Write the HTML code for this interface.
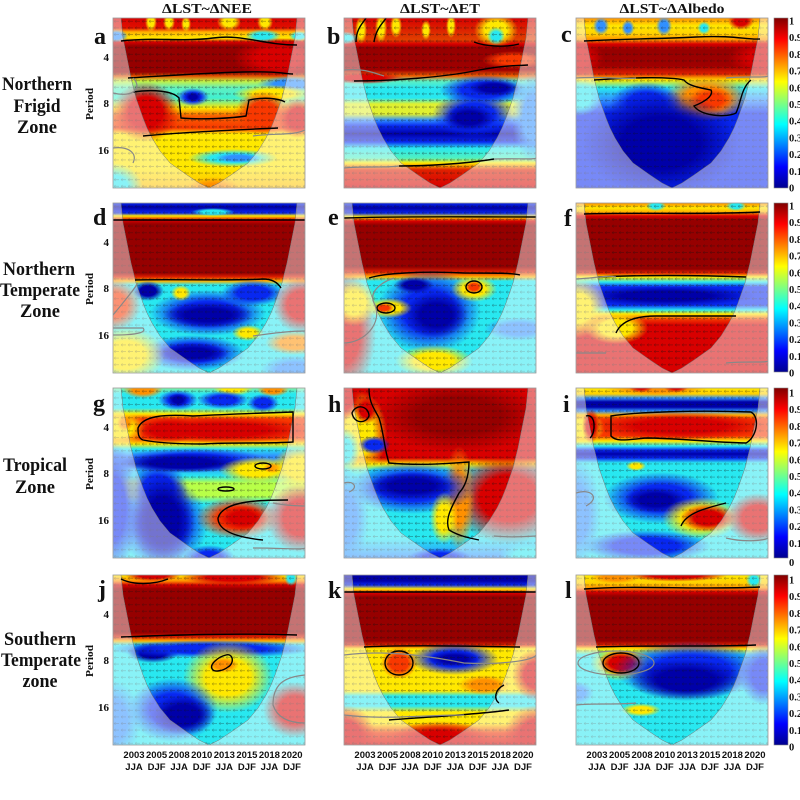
<!DOCTYPE html>
<html><head><meta charset="utf-8"><style>html,body{margin:0;padding:0;background:#fff}svg{display:block}</style></head><body>
<svg width="800" height="800" viewBox="0 0 800 800" xmlns="http://www.w3.org/2000/svg">
<defs>
<clipPath id="pc"><rect x="0" y="0" width="192" height="170"/></clipPath>
<pattern id="ar" patternUnits="userSpaceOnUse" width="7" height="6.6"><path d="M1,3.3h5M1,3.3l1.7,-1.3M1,3.3l1.7,1.3" stroke="#111" stroke-width="0.6" fill="none"/></pattern>
<linearGradient id="jet" x1="0" y1="0" x2="0" y2="1">
<stop offset="0" stop-color="#800000"/><stop offset="0.125" stop-color="#FF0000"/><stop offset="0.375" stop-color="#FFFF00"/><stop offset="0.625" stop-color="#00FFFF"/><stop offset="0.875" stop-color="#0000FF"/><stop offset="1" stop-color="#00008F"/>
</linearGradient>
<radialGradient id="gD"><stop offset="0" stop-color="#960000"/><stop offset="0.5" stop-color="#960000"/><stop offset="1" stop-color="#960000" stop-opacity="0"/></radialGradient>
<radialGradient id="gR"><stop offset="0" stop-color="#D80000"/><stop offset="0.5" stop-color="#D80000"/><stop offset="1" stop-color="#D80000" stop-opacity="0"/></radialGradient>
<radialGradient id="gRO"><stop offset="0" stop-color="#F83800"/><stop offset="0.5" stop-color="#F83800"/><stop offset="1" stop-color="#F83800" stop-opacity="0"/></radialGradient>
<radialGradient id="gO"><stop offset="0" stop-color="#FF9000"/><stop offset="0.5" stop-color="#FF9000"/><stop offset="1" stop-color="#FF9000" stop-opacity="0"/></radialGradient>
<radialGradient id="gY"><stop offset="0" stop-color="#FFE800"/><stop offset="0.5" stop-color="#FFE800"/><stop offset="1" stop-color="#FFE800" stop-opacity="0"/></radialGradient>
<radialGradient id="gC"><stop offset="0" stop-color="#28E8F0"/><stop offset="0.5" stop-color="#28E8F0"/><stop offset="1" stop-color="#28E8F0" stop-opacity="0"/></radialGradient>
<radialGradient id="gL"><stop offset="0" stop-color="#3090FF"/><stop offset="0.5" stop-color="#3090FF"/><stop offset="1" stop-color="#3090FF" stop-opacity="0"/></radialGradient>
<radialGradient id="gB"><stop offset="0" stop-color="#0828F0"/><stop offset="0.5" stop-color="#0828F0"/><stop offset="1" stop-color="#0828F0" stop-opacity="0"/></radialGradient>
<radialGradient id="gK"><stop offset="0" stop-color="#0000A8"/><stop offset="0.5" stop-color="#0000A8"/><stop offset="1" stop-color="#0000A8" stop-opacity="0"/></radialGradient>

<linearGradient id="pa" x1="0" y1="0" x2="0" y2="1">
<stop offset="0" stop-color="#D80000"/><stop offset="0.059" stop-color="#E01000"/><stop offset="0.082" stop-color="#FFB000"/><stop offset="0.118" stop-color="#FFE800"/><stop offset="0.141" stop-color="#D80000"/><stop offset="0.165" stop-color="#960000"/><stop offset="0.318" stop-color="#960000"/><stop offset="0.341" stop-color="#E05000"/><stop offset="0.371" stop-color="#C8F040"/><stop offset="0.412" stop-color="#60F0C0"/><stop offset="0.47" stop-color="#40F0D0"/><stop offset="0.529" stop-color="#FFE800"/><stop offset="0.576" stop-color="#F86000"/><stop offset="0.647" stop-color="#F83800"/><stop offset="0.682" stop-color="#FFE800"/><stop offset="0.882" stop-color="#FFE800"/><stop offset="1" stop-color="#FFC000"/>
</linearGradient>
<linearGradient id="pb" x1="0" y1="0" x2="0" y2="1">
<stop offset="0" stop-color="#D80000"/><stop offset="0.129" stop-color="#E04000"/><stop offset="0.153" stop-color="#D80000"/><stop offset="0.176" stop-color="#960000"/><stop offset="0.306" stop-color="#A00000"/><stop offset="0.341" stop-color="#F06000"/><stop offset="0.371" stop-color="#60F0C0"/><stop offset="0.412" stop-color="#28E8F0"/><stop offset="0.47" stop-color="#28E8F0"/><stop offset="0.506" stop-color="#E0F030"/><stop offset="0.565" stop-color="#E0F030"/><stop offset="0.6" stop-color="#3090FF"/><stop offset="0.635" stop-color="#0828F0"/><stop offset="0.682" stop-color="#0000A8"/><stop offset="0.729" stop-color="#0828F0"/><stop offset="0.765" stop-color="#28E8F0"/><stop offset="0.824" stop-color="#50F0C0"/><stop offset="0.853" stop-color="#FFE800"/><stop offset="0.894" stop-color="#E02000"/><stop offset="1" stop-color="#D80000"/>
</linearGradient>
<linearGradient id="pcg" x1="0" y1="0" x2="0" y2="1">
<stop offset="0" stop-color="#FF9000"/><stop offset="0.047" stop-color="#FFE800"/><stop offset="0.094" stop-color="#FFD000"/><stop offset="0.129" stop-color="#FF9000"/><stop offset="0.153" stop-color="#D80000"/><stop offset="0.188" stop-color="#960000"/><stop offset="0.282" stop-color="#A00000"/><stop offset="0.329" stop-color="#E02000"/><stop offset="0.365" stop-color="#FFE800"/><stop offset="0.412" stop-color="#28E8F0"/><stop offset="0.482" stop-color="#3090FF"/><stop offset="0.559" stop-color="#0828F0"/><stop offset="1" stop-color="#0828F0"/>
</linearGradient>
<linearGradient id="pd" x1="0" y1="0" x2="0" y2="1">
<stop offset="0" stop-color="#0828F0"/><stop offset="0.024" stop-color="#0000A8"/><stop offset="0.059" stop-color="#0828F0"/><stop offset="0.076" stop-color="#FFE800"/><stop offset="0.1" stop-color="#D80000"/><stop offset="0.124" stop-color="#960000"/><stop offset="0.412" stop-color="#960000"/><stop offset="0.435" stop-color="#E02000"/><stop offset="0.459" stop-color="#FFB000"/><stop offset="0.482" stop-color="#28E8F0"/><stop offset="1" stop-color="#28E8F0"/>
</linearGradient>
<linearGradient id="pe" x1="0" y1="0" x2="0" y2="1">
<stop offset="0" stop-color="#0828F0"/><stop offset="0.029" stop-color="#0000A8"/><stop offset="0.059" stop-color="#0828F0"/><stop offset="0.082" stop-color="#FFE800"/><stop offset="0.106" stop-color="#D80000"/><stop offset="0.129" stop-color="#960000"/><stop offset="0.376" stop-color="#960000"/><stop offset="0.406" stop-color="#E02000"/><stop offset="0.435" stop-color="#FFB000"/><stop offset="0.459" stop-color="#28E8F0"/><stop offset="1" stop-color="#28E8F0"/>
</linearGradient>
<linearGradient id="pf" x1="0" y1="0" x2="0" y2="1">
<stop offset="0" stop-color="#FF9000"/><stop offset="0.029" stop-color="#FFE800"/><stop offset="0.053" stop-color="#FFB000"/><stop offset="0.076" stop-color="#D80000"/><stop offset="0.1" stop-color="#960000"/><stop offset="0.388" stop-color="#960000"/><stop offset="0.412" stop-color="#E02000"/><stop offset="0.435" stop-color="#FFE800"/><stop offset="0.465" stop-color="#28E8F0"/><stop offset="0.494" stop-color="#0828F0"/><stop offset="0.6" stop-color="#0828F0"/><stop offset="0.629" stop-color="#28E8F0"/><stop offset="0.653" stop-color="#FFE800"/><stop offset="0.688" stop-color="#F03000"/><stop offset="0.718" stop-color="#D80000"/><stop offset="1" stop-color="#D80000"/>
</linearGradient>
<linearGradient id="pg" x1="0" y1="0" x2="0" y2="1">
<stop offset="0" stop-color="#80F0A0"/><stop offset="0.035" stop-color="#28E8F0"/><stop offset="0.118" stop-color="#28E8F0"/><stop offset="0.153" stop-color="#FFE800"/><stop offset="0.182" stop-color="#F83800"/><stop offset="0.294" stop-color="#F83800"/><stop offset="0.329" stop-color="#FFE800"/><stop offset="0.359" stop-color="#28E8F0"/><stop offset="0.4" stop-color="#3090FF"/><stop offset="0.459" stop-color="#3090FF"/><stop offset="0.518" stop-color="#28E8F0"/><stop offset="0.559" stop-color="#B8FF48"/><stop offset="0.635" stop-color="#B8FF48"/><stop offset="0.682" stop-color="#28E8F0"/><stop offset="1" stop-color="#28E8F0"/>
</linearGradient>
<linearGradient id="ph" x1="0" y1="0" x2="0" y2="1">
<stop offset="0" stop-color="#D80000"/><stop offset="0.412" stop-color="#D80000"/><stop offset="0.447" stop-color="#FFE800"/><stop offset="0.482" stop-color="#28E8F0"/><stop offset="0.882" stop-color="#28E8F0"/><stop offset="1" stop-color="#3090FF"/>
</linearGradient>
<linearGradient id="pi" x1="0" y1="0" x2="0" y2="1">
<stop offset="0" stop-color="#FFE800"/><stop offset="0.035" stop-color="#FFD000"/><stop offset="0.059" stop-color="#3090FF"/><stop offset="0.082" stop-color="#0000A8"/><stop offset="0.112" stop-color="#0000A8"/><stop offset="0.135" stop-color="#3090FF"/><stop offset="0.159" stop-color="#FFB000"/><stop offset="0.182" stop-color="#F83800"/><stop offset="0.282" stop-color="#F83800"/><stop offset="0.312" stop-color="#FFE800"/><stop offset="0.341" stop-color="#28E8F0"/><stop offset="0.365" stop-color="#0828F0"/><stop offset="0.388" stop-color="#0000A8"/><stop offset="0.412" stop-color="#0828F0"/><stop offset="0.441" stop-color="#28E8F0"/><stop offset="1" stop-color="#28E8F0"/>
</linearGradient>
<linearGradient id="pj" x1="0" y1="0" x2="0" y2="1">
<stop offset="0" stop-color="#FFE800"/><stop offset="0.035" stop-color="#FF9000"/><stop offset="0.059" stop-color="#D80000"/><stop offset="0.082" stop-color="#960000"/><stop offset="0.341" stop-color="#960000"/><stop offset="0.365" stop-color="#E02000"/><stop offset="0.388" stop-color="#FFB000"/><stop offset="0.412" stop-color="#28E8F0"/><stop offset="1" stop-color="#28E8F0"/>
</linearGradient>
<linearGradient id="pk" x1="0" y1="0" x2="0" y2="1">
<stop offset="0" stop-color="#0000A8"/><stop offset="0.035" stop-color="#0000A8"/><stop offset="0.059" stop-color="#0828F0"/><stop offset="0.082" stop-color="#FFE800"/><stop offset="0.106" stop-color="#D80000"/><stop offset="0.129" stop-color="#960000"/><stop offset="0.388" stop-color="#960000"/><stop offset="0.412" stop-color="#E02000"/><stop offset="0.435" stop-color="#FFE800"/><stop offset="0.682" stop-color="#FFE800"/><stop offset="0.712" stop-color="#28E8F0"/><stop offset="0.771" stop-color="#28E8F0"/><stop offset="0.806" stop-color="#FFE800"/><stop offset="0.871" stop-color="#FFE800"/><stop offset="0.929" stop-color="#F03000"/><stop offset="1" stop-color="#D80000"/>
</linearGradient>
<linearGradient id="pl" x1="0" y1="0" x2="0" y2="1">
<stop offset="0" stop-color="#FFE800"/><stop offset="0.047" stop-color="#FFD000"/><stop offset="0.076" stop-color="#FF9000"/><stop offset="0.1" stop-color="#D80000"/><stop offset="0.124" stop-color="#960000"/><stop offset="0.388" stop-color="#960000"/><stop offset="0.412" stop-color="#E02000"/><stop offset="0.435" stop-color="#FFE800"/><stop offset="0.47" stop-color="#28E8F0"/><stop offset="1" stop-color="#28E8F0"/>
</linearGradient>

<path id="ov" d="M0,0H192V170H0Z M8,0 L10,20 L14,40 L18,60 L23,80 L30,100 L34,110 L39,120 L47,133 L57,145 L74,157 L86,165 L96,170 L106,165 L118,157 L135,145 L145,133 L153,120 L158,110 L162,100 L169,80 L174,60 L178,40 L182,20 L184,0 Z" fill="#fff" fill-opacity="0.45" fill-rule="evenodd"/>
<path id="ce" d="M8,0 L10,20 L14,40 L18,60 L23,80 L30,100 L34,110 L39,120 L47,133 L57,145 L74,157 L86,165 L96,170 L106,165 L118,157 L135,145 L145,133 L153,120 L158,110 L162,100 L169,80 L174,60 L178,40 L182,20 L184,0" fill="none" stroke="#777" stroke-width="0.5"/>
</defs>

<!-- Panel a -->
<g transform="translate(113,18)"><g clip-path="url(#pc)">
<rect x="-10" y="0" width="212" height="170" fill="url(#pa)"/>
<ellipse cx="38" cy="4" rx="6" ry="10" fill="url(#gY)"/>
<ellipse cx="56" cy="4" rx="6" ry="9" fill="url(#gY)"/>
<ellipse cx="73" cy="6" rx="5" ry="8" fill="url(#gY)"/>
<ellipse cx="116" cy="4" rx="12" ry="9" fill="url(#gY)"/>
<ellipse cx="152" cy="4" rx="8" ry="9" fill="url(#gY)"/>
<ellipse cx="150" cy="18" rx="18" ry="6.5" fill="url(#gC)"/>
<ellipse cx="3" cy="18" rx="12" ry="6.5" fill="url(#gL)"/>
<ellipse cx="186" cy="18" rx="10" ry="5" fill="url(#gC)"/>
<ellipse cx="165" cy="40" rx="45" ry="20" fill="url(#gR)"/>
<ellipse cx="178" cy="66" rx="34" ry="8" fill="url(#gL)"/>
<ellipse cx="160" cy="76" rx="40" ry="9" fill="url(#gY)"/>
<ellipse cx="33" cy="94" rx="34" ry="30" fill="url(#gR)"/>
<ellipse cx="150" cy="95" rx="28" ry="22" fill="url(#gRO)"/>
<ellipse cx="80" cy="79" rx="16" ry="9" fill="url(#gB)"/>
<ellipse cx="80" cy="79" rx="8" ry="5" fill="url(#gK)"/>
<ellipse cx="120" cy="140" rx="45" ry="9" fill="url(#gC)"/>
<ellipse cx="125" cy="140" rx="23" ry="5" fill="url(#gL)"/>
<ellipse cx="100" cy="172" rx="28" ry="13" fill="url(#gO)"/>
<ellipse cx="0" cy="170" rx="30" ry="25" fill="url(#gC)"/>
<ellipse cx="185" cy="100" rx="20" ry="20" fill="url(#gR)"/>
<rect width="192" height="170" fill="url(#ar)" opacity="0.4"/>
<use href="#ov"/><use href="#ce"/>
<g fill="none" stroke="#000" stroke-width="1.4">
<path d="M8,23 C40,19 70,24 100,20 S150,27 184,27"/>
<path d="M15,60 C50,58 90,55 130,54 S170,56 180,56"/>
<path d="M20,74 C40,71 60,73 66,80 L68,100 C90,102 120,100 133,98 L136,82 C150,79 165,80 172,84"/>
<path d="M30,118 C70,114 120,112 165,110"/>
</g>
<g fill="none" stroke="#888" stroke-width="1.2">
<path d="M0,75 C20,80 30,70 20,60"/><path d="M140,118 C160,115 180,118 192,112"/><path d="M0,130 C15,128 25,135 20,145"/>
</g>
</g><rect width="192" height="170" fill="none" stroke="#999" stroke-width="0.8"/></g>

<!-- Panel b -->
<g transform="translate(344,18)"><g clip-path="url(#pc)">
<rect x="-10" y="0" width="212" height="170" fill="url(#pb)"/>
<ellipse cx="17" cy="12" rx="6" ry="14" fill="url(#gY)"/>
<ellipse cx="37" cy="10" rx="6" ry="15" fill="url(#gY)"/>
<ellipse cx="52" cy="8" rx="6" ry="12" fill="url(#gY)"/>
<ellipse cx="82" cy="12" rx="5" ry="10" fill="url(#gY)"/>
<ellipse cx="107" cy="8" rx="5" ry="12" fill="url(#gY)"/>
<ellipse cx="152" cy="12" rx="22" ry="17" fill="url(#gY)"/>
<ellipse cx="152" cy="18" rx="9" ry="9" fill="url(#gC)"/>
<ellipse cx="0" cy="20" rx="15" ry="6.5" fill="url(#gC)"/>
<ellipse cx="170" cy="42" rx="32" ry="9" fill="url(#gRO)"/>
<ellipse cx="20" cy="60" rx="40" ry="6" fill="url(#gR)"/>
<ellipse cx="140" cy="72" rx="45" ry="15" fill="url(#gB)"/>
<ellipse cx="150" cy="70" rx="26" ry="8" fill="url(#gK)"/>
<ellipse cx="130" cy="97" rx="42" ry="23" fill="url(#gB)"/>
<ellipse cx="125" cy="100" rx="26" ry="13" fill="url(#gK)"/>
<ellipse cx="190" cy="100" rx="22" ry="45" fill="url(#gL)"/>
<rect width="192" height="170" fill="url(#ar)" opacity="0.4"/>
<use href="#ov"/><use href="#ce"/>
<g fill="none" stroke="#000" stroke-width="1.4">
<path d="M10,63 C50,63 100,59 130,53 S170,48 184,47"/>
<path d="M55,148 C80,148 120,146 150,141"/>
<path d="M12,24 C12,10 20,4 22,0"/><path d="M30,24 C32,10 40,4 42,0"/><path d="M130,24 C140,28 160,30 175,26"/>
</g>
<g fill="none" stroke="#888" stroke-width="1.2">
<path d="M0,52 C20,50 30,55 40,58"/><path d="M0,150 C20,148 40,150 55,148"/><path d="M150,141 C170,140 190,142 192,140"/>
</g>
</g><rect width="192" height="170" fill="none" stroke="#999" stroke-width="0.8"/></g>

<!-- Panel c -->
<g transform="translate(576,18)"><g clip-path="url(#pc)">
<rect x="-10" y="0" width="212" height="170" fill="url(#pcg)"/>
<ellipse cx="25" cy="8" rx="8" ry="9" fill="url(#gL)"/>
<ellipse cx="52" cy="10" rx="6.5" ry="8" fill="url(#gL)"/>
<ellipse cx="88" cy="8" rx="8" ry="10" fill="url(#gL)"/>
<ellipse cx="128" cy="10" rx="6.5" ry="6.5" fill="url(#gC)"/>
<ellipse cx="165" cy="3" rx="13" ry="9" fill="url(#gR)"/>
<ellipse cx="0" cy="40" rx="28" ry="18" fill="url(#gR)"/>
<ellipse cx="192" cy="40" rx="40" ry="18" fill="url(#gR)"/>
<ellipse cx="130" cy="80" rx="42" ry="23" fill="url(#gO)"/>
<ellipse cx="135" cy="82" rx="23" ry="13" fill="url(#gRO)"/>
<ellipse cx="70" cy="85" rx="36" ry="21" fill="url(#gB)"/>
<ellipse cx="85" cy="125" rx="78" ry="52" fill="url(#gK)"/>
<ellipse cx="3" cy="80" rx="23" ry="18" fill="url(#gC)"/>
<rect width="192" height="170" fill="url(#ar)" opacity="0.35"/>
<use href="#ov"/><use href="#ce"/>
<g fill="none" stroke="#000" stroke-width="1.4">
<path d="M8,23 C40,21 80,21 120,19 S170,22 184,21"/>
<path d="M18,62 C50,60 90,58 108,62 C112,68 125,70 135,72 C138,78 128,84 118,88 C125,98 150,100 160,95 C165,85 165,70 175,62"/>
</g>
<g fill="none" stroke="#888" stroke-width="1.2">
<path d="M0,60 C30,58 50,62 60,60"/><path d="M150,60 C170,58 190,60 192,58"/>
</g>
</g><rect width="192" height="170" fill="none" stroke="#999" stroke-width="0.8"/></g>

<!-- Panel d -->
<g transform="translate(113,203)"><g clip-path="url(#pc)">
<rect x="-10" y="0" width="212" height="170" fill="url(#pd)"/>
<ellipse cx="100" cy="9" rx="22" ry="4" fill="url(#gC)"/>
<ellipse cx="35" cy="88" rx="16" ry="10" fill="url(#gK)"/>
<ellipse cx="95" cy="110" rx="58" ry="23" fill="url(#gB)"/>
<ellipse cx="95" cy="112" rx="45" ry="13" fill="url(#gK)"/>
<ellipse cx="140" cy="90" rx="32" ry="13" fill="url(#gB)"/>
<ellipse cx="68" cy="90" rx="10" ry="8" fill="url(#gY)"/>
<ellipse cx="135" cy="130" rx="16" ry="8" fill="url(#gY)"/>
<ellipse cx="80" cy="150" rx="52" ry="18" fill="url(#gB)"/>
<ellipse cx="80" cy="150" rx="36" ry="10" fill="url(#gK)"/>
<ellipse cx="0" cy="102" rx="28" ry="26" fill="url(#gRO)"/>
<ellipse cx="12" cy="152" rx="40" ry="28" fill="url(#gY)"/>
<ellipse cx="188" cy="102" rx="28" ry="28" fill="url(#gR)"/>
<ellipse cx="182" cy="140" rx="30" ry="12" fill="url(#gO)"/>
<ellipse cx="182" cy="167" rx="35" ry="15" fill="url(#gL)"/>
<rect width="192" height="170" fill="url(#ar)" opacity="0.35"/>
<use href="#ov"/><use href="#ce"/>
<g fill="none" stroke="#000" stroke-width="1.4">
<path d="M0,17 H192"/><path d="M22,77 C60,76 120,78 150,76 C160,76 165,80 168,85"/>
</g>
<g fill="none" stroke="#888" stroke-width="1.2">
<path d="M0,112 C10,100 20,88 25,80"/><path d="M0,125 L30,125 C33,128 30,132 0,132"/><path d="M140,133 C160,130 180,128 192,128"/>
</g>
</g><rect width="192" height="170" fill="none" stroke="#999" stroke-width="0.8"/></g>

<!-- Panel e -->
<g transform="translate(344,203)"><g clip-path="url(#pc)">
<rect x="-10" y="0" width="212" height="170" fill="url(#pe)"/>
<ellipse cx="85" cy="108" rx="52" ry="42" fill="url(#gB)"/>
<ellipse cx="92" cy="112" rx="32" ry="23" fill="url(#gK)"/>
<ellipse cx="70" cy="82" rx="20" ry="8" fill="url(#gK)"/>
<ellipse cx="130" cy="86" rx="23" ry="13" fill="url(#gY)"/>
<ellipse cx="130" cy="84" rx="9" ry="6.5" fill="url(#gRO)"/>
<ellipse cx="90" cy="158" rx="39" ry="16" fill="url(#gY)"/>
<ellipse cx="175" cy="126" rx="35" ry="12" fill="url(#gL)"/>
<ellipse cx="0" cy="130" rx="32" ry="62" fill="url(#gR)"/>
<ellipse cx="10" cy="100" rx="23" ry="23" fill="url(#gY)"/>
<ellipse cx="45" cy="105" rx="23" ry="10" fill="url(#gY)"/>
<ellipse cx="40" cy="105" rx="10" ry="5" fill="url(#gRO)"/>
<rect width="192" height="170" fill="url(#ar)" opacity="0.35"/>
<use href="#ov"/><use href="#ce"/>
<g fill="none" stroke="#000" stroke-width="1.4">
<path d="M0,15 C60,13 120,14 192,14"/><path d="M25,75 C40,70 80,68 120,70 C150,70 170,70 176,72"/>
<ellipse cx="130" cy="84" rx="8" ry="6"/><ellipse cx="42" cy="105" rx="9" ry="5"/>
</g>
<g fill="none" stroke="#888" stroke-width="1.2"><path d="M0,140 C20,140 40,120 30,100 C25,90 35,80 50,75"/></g>
</g><rect width="192" height="170" fill="none" stroke="#999" stroke-width="0.8"/></g>

<!-- Panel f -->
<g transform="translate(576,203)"><g clip-path="url(#pc)">
<rect x="-10" y="0" width="212" height="170" fill="url(#pf)"/>
<ellipse cx="80" cy="3" rx="10" ry="5" fill="url(#gC)"/>
<ellipse cx="160" cy="3" rx="10" ry="5" fill="url(#gC)"/>
<ellipse cx="90" cy="93" rx="90" ry="10" fill="url(#gK)"/>
<ellipse cx="40" cy="125" rx="32" ry="16" fill="url(#gY)"/>
<ellipse cx="0" cy="105" rx="30" ry="30" fill="url(#gY)"/>
<rect width="192" height="170" fill="url(#ar)" opacity="0.4"/>
<use href="#ov"/><use href="#ce"/>
<g fill="none" stroke="#000" stroke-width="1.4">
<path d="M8,11 C60,9 120,12 184,9"/><path d="M22,74 C60,72 120,72 170,74"/><path d="M40,130 C45,118 60,113 80,113 H160"/>
</g>
<g fill="none" stroke="#888" stroke-width="1.2">
<path d="M0,76 C20,75 30,72 40,74"/><path d="M0,150 H30"/><path d="M150,160 C170,158 190,160 192,158"/>
</g>
</g><rect width="192" height="170" fill="none" stroke="#999" stroke-width="0.8"/></g>

<!-- Panel g -->
<g transform="translate(113,388)"><g clip-path="url(#pc)">
<rect x="-10" y="0" width="212" height="170" fill="url(#pg)"/>
<ellipse cx="30" cy="2" rx="20" ry="8" fill="url(#gO)"/>
<ellipse cx="120" cy="0" rx="20" ry="8" fill="url(#gY)"/>
<ellipse cx="160" cy="2" rx="16" ry="6.5" fill="url(#gO)"/>
<ellipse cx="65" cy="12" rx="20" ry="10" fill="url(#gB)"/>
<ellipse cx="110" cy="12" rx="26" ry="9" fill="url(#gB)"/>
<ellipse cx="150" cy="15" rx="16" ry="9" fill="url(#gB)"/>
<ellipse cx="65" cy="12" rx="10" ry="6.5" fill="url(#gK)"/>
<ellipse cx="5" cy="40" rx="28" ry="18" fill="url(#gY)"/>
<ellipse cx="12" cy="35" rx="8" ry="8" fill="url(#gO)"/>
<ellipse cx="110" cy="42" rx="90" ry="13" fill="url(#gR)"/>
<ellipse cx="55" cy="42" rx="32" ry="13" fill="url(#gR)"/>
<ellipse cx="80" cy="72" rx="75" ry="12" fill="url(#gB)"/>
<ellipse cx="45" cy="100" rx="30" ry="25" fill="url(#gB)"/>
<ellipse cx="70" cy="75" rx="65" ry="10" fill="url(#gK)"/>
<ellipse cx="145" cy="82" rx="39" ry="13" fill="url(#gY)"/>
<ellipse cx="160" cy="80" rx="10" ry="5" fill="url(#gO)"/>
<ellipse cx="50" cy="135" rx="45" ry="45" fill="url(#gB)"/>
<ellipse cx="50" cy="132" rx="32" ry="45" fill="url(#gK)"/>
<ellipse cx="125" cy="130" rx="42" ry="21" fill="url(#gRO)"/>
<ellipse cx="130" cy="130" rx="26" ry="13" fill="url(#gR)"/>
<ellipse cx="96" cy="170" rx="26" ry="13" fill="url(#gB)"/>
<ellipse cx="0" cy="120" rx="25" ry="65" fill="url(#gB)"/>
<ellipse cx="188" cy="130" rx="35" ry="35" fill="url(#gR)"/>
<ellipse cx="188" cy="80" rx="30" ry="22" fill="url(#gY)"/>
<rect width="192" height="170" fill="url(#ar)" opacity="0.35"/>
<use href="#ov"/><use href="#ce"/>
<g fill="none" stroke="#000" stroke-width="1.4">
<path d="M25,40 C30,28 50,26 80,28 C120,26 150,25 180,24 L180,54 C150,56 120,54 90,56 C60,56 40,54 30,52 C25,50 25,45 25,40Z"/>
<ellipse cx="150" cy="78" rx="8" ry="3"/><ellipse cx="113" cy="101" rx="8" ry="2"/>
<path d="M175,112 C150,112 110,112 105,130 C105,145 130,150 150,152"/>
</g>
<g fill="none" stroke="#888" stroke-width="1.2">
<path d="M160,115 C175,118 192,118 192,118"/><path d="M140,160 C170,160 190,162 192,160"/>
</g>
</g><rect width="192" height="170" fill="none" stroke="#999" stroke-width="0.8"/></g>

<!-- Panel h -->
<g transform="translate(344,388)"><g clip-path="url(#pc)">
<rect x="-10" y="0" width="212" height="170" fill="url(#ph)"/>
<ellipse cx="115" cy="28" rx="85" ry="36" fill="url(#gD)"/>
<ellipse cx="15" cy="45" rx="28" ry="42" fill="url(#gY)"/>
<ellipse cx="0" cy="10" rx="18" ry="22" fill="url(#gR)"/>
<ellipse cx="22" cy="22" rx="12" ry="14" fill="url(#gR)"/>
<ellipse cx="0" cy="62" rx="16" ry="22" fill="url(#gC)"/>
<ellipse cx="30" cy="57" rx="16" ry="9" fill="url(#gB)"/>
<ellipse cx="165" cy="110" rx="58" ry="46" fill="url(#gR)"/>
<ellipse cx="115" cy="110" rx="16" ry="52" fill="url(#gO)"/>
<ellipse cx="68" cy="100" rx="65" ry="26" fill="url(#gB)"/>
<ellipse cx="68" cy="98" rx="45" ry="14" fill="url(#gK)"/>
<ellipse cx="100" cy="130" rx="14" ry="26" fill="url(#gY)"/>
<ellipse cx="96" cy="170" rx="32" ry="10" fill="url(#gB)"/>
<ellipse cx="0" cy="130" rx="25" ry="50" fill="url(#gL)"/>
<ellipse cx="185" cy="168" rx="30" ry="14" fill="url(#gC)"/>
<rect width="192" height="170" fill="url(#ar)" opacity="0.4"/>
<use href="#ov"/><use href="#ce"/>
<g fill="none" stroke="#000" stroke-width="1.4">
<path d="M25,0 C25,15 30,20 35,30 C40,45 40,60 45,75 C80,78 110,75 125,74 C125,90 120,100 115,105 C110,115 100,130 105,142 C115,148 125,150 135,152"/>
<path d="M8,25 C12,15 25,18 25,28 C22,36 10,36 8,25Z"/>
</g>
<g fill="none" stroke="#888" stroke-width="1.2"><path d="M0,95 C10,92 15,100 5,104"/><path d="M150,148 C170,150 190,148 192,148"/></g>
</g><rect width="192" height="170" fill="none" stroke="#999" stroke-width="0.8"/></g>

<!-- Panel i -->
<g transform="translate(576,388)"><g clip-path="url(#pc)">
<rect x="-10" y="0" width="212" height="170" fill="url(#pi)"/>
<ellipse cx="80" cy="0" rx="52" ry="8" fill="url(#gO)"/>
<ellipse cx="65" cy="-2" rx="13" ry="6.5" fill="url(#gR)"/>
<ellipse cx="100" cy="-2" rx="13" ry="6.5" fill="url(#gR)"/>
<ellipse cx="5" cy="40" rx="24" ry="16" fill="url(#gY)"/>
<ellipse cx="105" cy="38" rx="90" ry="14" fill="url(#gR)"/>
<ellipse cx="15" cy="38" rx="9" ry="17" fill="url(#gR)"/>
<ellipse cx="60" cy="78" rx="10" ry="5" fill="url(#gY)"/>
<ellipse cx="85" cy="110" rx="58" ry="26" fill="url(#gB)"/>
<ellipse cx="80" cy="112" rx="32" ry="13" fill="url(#gK)"/>
<ellipse cx="125" cy="130" rx="39" ry="21" fill="url(#gY)"/>
<ellipse cx="132" cy="130" rx="28" ry="14" fill="url(#gR)"/>
<ellipse cx="70" cy="158" rx="65" ry="16" fill="url(#gB)"/>
<ellipse cx="0" cy="125" rx="25" ry="55" fill="url(#gL)"/>
<ellipse cx="182" cy="130" rx="32" ry="25" fill="url(#gR)"/>
<rect width="192" height="170" fill="url(#ar)" opacity="0.35"/>
<use href="#ov"/><use href="#ce"/>
<g fill="none" stroke="#000" stroke-width="1.4">
<path d="M35,28 C60,24 120,22 175,24 C185,30 180,50 170,55 C130,54 100,50 70,50 C50,52 40,54 35,48 Z"/>
<path d="M10,28 C20,25 20,45 14,50"/><path d="M105,138 C110,125 130,120 150,115"/>
</g>
<g fill="none" stroke="#888" stroke-width="1.2"><path d="M0,105 C15,100 25,110 10,118"/><path d="M150,150 C170,155 190,152 192,150"/></g>
</g><rect width="192" height="170" fill="none" stroke="#999" stroke-width="0.8"/></g>

<!-- Panel j -->
<g transform="translate(113,575)"><g clip-path="url(#pc)">
<rect x="-10" y="0" width="212" height="170" fill="url(#pj)"/>
<ellipse cx="40" cy="0" rx="28" ry="6.5" fill="url(#gR)"/>
<ellipse cx="120" cy="2" rx="52" ry="8" fill="url(#gR)"/>
<ellipse cx="178" cy="3" rx="6.5" ry="8" fill="url(#gC)"/>
<ellipse cx="40" cy="78" rx="26" ry="10" fill="url(#gK)"/>
<ellipse cx="100" cy="74" rx="104" ry="9" fill="url(#gB)"/>
<ellipse cx="115" cy="102" rx="45" ry="36" fill="url(#gY)"/>
<ellipse cx="110" cy="90" rx="16" ry="8" fill="url(#gO)"/>
<ellipse cx="60" cy="135" rx="45" ry="32" fill="url(#gB)"/>
<ellipse cx="70" cy="140" rx="32" ry="20" fill="url(#gK)"/>
<ellipse cx="0" cy="145" rx="28" ry="40" fill="url(#gL)"/>
<ellipse cx="182" cy="135" rx="32" ry="28" fill="url(#gR)"/>
<rect width="192" height="170" fill="url(#ar)" opacity="0.35"/>
<use href="#ov"/><use href="#ce"/>
<g fill="none" stroke="#000" stroke-width="1.4">
<path d="M8,62 C60,60 120,58 184,60"/>
<path d="M100,95 C95,90 105,82 113,80 C120,78 122,88 115,92 C110,96 102,97 100,95 Z"/>
<path d="M8,4 C20,10 40,10 55,4"/>
</g>
<g fill="none" stroke="#888" stroke-width="1.2"><path d="M192,100 C170,102 160,110 160,130 C165,145 180,148 192,148"/></g>
</g><rect width="192" height="170" fill="none" stroke="#999" stroke-width="0.8"/></g>

<!-- Panel k -->
<g transform="translate(344,575)"><g clip-path="url(#pc)">
<rect x="-10" y="0" width="212" height="170" fill="url(#pk)"/>
<ellipse cx="55" cy="88" rx="18" ry="16" fill="url(#gRO)"/>
<ellipse cx="110" cy="84" rx="45" ry="16" fill="url(#gB)"/>
<ellipse cx="110" cy="84" rx="26" ry="8" fill="url(#gK)"/>
<ellipse cx="140" cy="110" rx="26" ry="10" fill="url(#gO)"/>
<ellipse cx="96" cy="166" rx="52" ry="20" fill="url(#gR)"/>
<ellipse cx="0" cy="160" rx="32" ry="30" fill="url(#gR)"/>
<ellipse cx="192" cy="160" rx="32" ry="30" fill="url(#gR)"/>
<ellipse cx="192" cy="100" rx="24" ry="26" fill="url(#gR)"/>
<rect width="192" height="170" fill="url(#ar)" opacity="0.4"/>
<use href="#ov"/><use href="#ce"/>
<g fill="none" stroke="#000" stroke-width="1.4">
<path d="M0,17 H192"/><path d="M20,72 C60,70 120,71 176,72"/>
<ellipse cx="55" cy="88" rx="14" ry="12"/>
<path d="M45,145 C80,142 130,140 165,135"/><path d="M160,110 C150,115 150,125 155,128"/>
</g>
<g fill="none" stroke="#888" stroke-width="1.2">
<path d="M0,80 C40,75 80,80 120,88 C160,90 190,85 192,80"/><path d="M0,140 C40,145 80,140 120,140"/>
</g>
</g><rect width="192" height="170" fill="none" stroke="#999" stroke-width="0.8"/></g>

<!-- Panel l -->
<g transform="translate(576,575)"><g clip-path="url(#pc)">
<rect x="-10" y="0" width="212" height="170" fill="url(#pl)"/>
<ellipse cx="100" cy="0" rx="52" ry="6.5" fill="url(#gR)"/>
<ellipse cx="40" cy="2" rx="26" ry="6.5" fill="url(#gO)"/>
<ellipse cx="178" cy="5" rx="8" ry="8" fill="url(#gC)"/>
<ellipse cx="45" cy="88" rx="31" ry="18" fill="url(#gY)"/>
<ellipse cx="45" cy="88" rx="23" ry="13" fill="url(#gR)"/>
<ellipse cx="115" cy="95" rx="78" ry="29" fill="url(#gB)"/>
<ellipse cx="110" cy="105" rx="58" ry="21" fill="url(#gK)"/>
<ellipse cx="65" cy="135" rx="20" ry="6.5" fill="url(#gY)"/>
<ellipse cx="188" cy="100" rx="25" ry="30" fill="url(#gB)"/>
<ellipse cx="0" cy="118" rx="18" ry="12" fill="url(#gL)"/>
<rect width="192" height="170" fill="url(#ar)" opacity="0.35"/>
<use href="#ov"/><use href="#ce"/>
<g fill="none" stroke="#000" stroke-width="1.4">
<path d="M8,14 C60,10 120,15 184,12"/><path d="M20,72 C80,70 140,72 180,70"/>
<ellipse cx="45" cy="88" rx="18" ry="10"/>
</g>
<g fill="none" stroke="#888" stroke-width="1.2">
<ellipse cx="40" cy="88" rx="38" ry="12"/><path d="M0,130 C20,128 40,130 60,128"/>
</g>
</g><rect width="192" height="170" fill="none" stroke="#999" stroke-width="0.8"/></g>

<!-- Colorbars -->
<g stroke="#888" stroke-width="0.6">
<rect x="774" y="18" width="14" height="170" fill="url(#jet)"/>
<rect x="774" y="203" width="14" height="169" fill="url(#jet)"/>
<rect x="774" y="388" width="14" height="170" fill="url(#jet)"/>
<rect x="774" y="575" width="14" height="170" fill="url(#jet)"/>
</g>
<g font-family="Liberation Serif, serif" font-weight="bold" font-size="10.5" fill="#111">
<text x="789" y="24.5">1</text><text x="789" y="41.2">0.9</text><text x="789" y="57.9">0.8</text><text x="789" y="74.6">0.7</text><text x="789" y="91.3">0.6</text><text x="789" y="108">0.5</text><text x="789" y="124.7">0.4</text><text x="789" y="141.4">0.3</text><text x="789" y="158.1">0.2</text><text x="789" y="174.8">0.1</text><text x="789" y="191.5">0</text>
<text x="789" y="209.5">1</text><text x="789" y="226.2">0.9</text><text x="789" y="242.9">0.8</text><text x="789" y="259.6">0.7</text><text x="789" y="276.3">0.6</text><text x="789" y="293">0.5</text><text x="789" y="309.7">0.4</text><text x="789" y="326.4">0.3</text><text x="789" y="343.1">0.2</text><text x="789" y="359.8">0.1</text><text x="789" y="376.5">0</text>
<text x="789" y="396.5">1</text><text x="789" y="413.2">0.9</text><text x="789" y="429.9">0.8</text><text x="789" y="446.6">0.7</text><text x="789" y="463.3">0.6</text><text x="789" y="480">0.5</text><text x="789" y="496.7">0.4</text><text x="789" y="513.4">0.3</text><text x="789" y="530.1">0.2</text><text x="789" y="546.8">0.1</text><text x="789" y="566">0</text>
<text x="789" y="583.5">1</text><text x="789" y="600.2">0.9</text><text x="789" y="616.9">0.8</text><text x="789" y="633.6">0.7</text><text x="789" y="650.3">0.6</text><text x="789" y="667">0.5</text><text x="789" y="683.7">0.4</text><text x="789" y="700.4">0.3</text><text x="789" y="717.1">0.2</text><text x="789" y="733.8">0.1</text><text x="789" y="750.5">0</text>
</g>

<!-- Titles -->
<g font-family="Liberation Serif, serif" font-weight="bold" font-size="14" fill="#111" text-anchor="middle">
<text x="207" y="13" textLength="90" lengthAdjust="spacingAndGlyphs">ΔLST~ΔNEE</text>
<text x="440" y="13" textLength="80" lengthAdjust="spacingAndGlyphs">ΔLST~ΔET</text>
<text x="672" y="13" textLength="105" lengthAdjust="spacingAndGlyphs">ΔLST~ΔAlbedo</text>
</g>

<!-- Panel letters -->
<g font-family="Liberation Serif, serif" font-weight="bold" font-size="24" fill="#111">
<text x="94" y="44">a</text><text x="327" y="44">b</text><text x="561" y="42">c</text>
<text x="93" y="225">d</text><text x="328" y="225">e</text><text x="564" y="226">f</text>
<text x="93" y="411">g</text><text x="328" y="412">h</text><text x="563" y="412">i</text>
<text x="98" y="597">j</text><text x="328" y="598">k</text><text x="565" y="598">l</text>
</g>

<!-- Row labels -->
<g font-family="Liberation Serif, serif" font-weight="bold" font-size="19" fill="#111" text-anchor="middle">
<text x="37" y="90" textLength="70" lengthAdjust="spacingAndGlyphs">Northern</text>
<text x="37" y="112" textLength="47" lengthAdjust="spacingAndGlyphs">Frigid</text>
<text x="37" y="133" textLength="40" lengthAdjust="spacingAndGlyphs">Zone</text>
<text x="39" y="275" textLength="72" lengthAdjust="spacingAndGlyphs">Northern</text>
<text x="40" y="296" textLength="80" lengthAdjust="spacingAndGlyphs">Temperate</text>
<text x="40" y="317" textLength="40" lengthAdjust="spacingAndGlyphs">Zone</text>
<text x="35" y="471" textLength="64" lengthAdjust="spacingAndGlyphs">Tropical</text>
<text x="35" y="493" textLength="40" lengthAdjust="spacingAndGlyphs">Zone</text>
<text x="40" y="645" textLength="72" lengthAdjust="spacingAndGlyphs">Southern</text>
<text x="41" y="666" textLength="80" lengthAdjust="spacingAndGlyphs">Temperate</text>
<text x="40" y="687" textLength="35" lengthAdjust="spacingAndGlyphs">zone</text>
</g>

<!-- Period labels and y ticks -->
<g font-family="Liberation Serif, serif" font-weight="bold" font-size="11" fill="#111" text-anchor="middle">
<text transform="translate(93,104) rotate(-90)" textLength="32" lengthAdjust="spacingAndGlyphs">Period</text>
<text transform="translate(93,289) rotate(-90)" textLength="32" lengthAdjust="spacingAndGlyphs">Period</text>
<text transform="translate(93,474) rotate(-90)" textLength="32" lengthAdjust="spacingAndGlyphs">Period</text>
<text transform="translate(93,661) rotate(-90)" textLength="32" lengthAdjust="spacingAndGlyphs">Period</text>
</g>
<g font-family="Liberation Serif, serif" font-weight="bold" font-size="11" fill="#111" text-anchor="end">
<text x="109" y="61">4</text><text x="109" y="107">8</text><text x="109" y="154">16</text>
<text x="109" y="246">4</text><text x="109" y="292">8</text><text x="109" y="339">16</text>
<text x="109" y="431">4</text><text x="109" y="477">8</text><text x="109" y="524">16</text>
<text x="109" y="618">4</text><text x="109" y="664">8</text><text x="109" y="711">16</text>
</g>

<!-- X tick labels -->
<g font-family="Liberation Sans, sans-serif" font-weight="bold" font-size="9.5" fill="#111" text-anchor="middle">
<text x="134" y="758">2003</text><text x="156.6" y="758">2005</text><text x="179.1" y="758">2008</text><text x="201.7" y="758">2010</text><text x="224.3" y="758">2013</text><text x="246.9" y="758">2015</text><text x="269.4" y="758">2018</text><text x="292" y="758">2020</text>
<text x="134" y="770">JJA</text><text x="156.6" y="770">DJF</text><text x="179.1" y="770">JJA</text><text x="201.7" y="770">DJF</text><text x="224.3" y="770">JJA</text><text x="246.9" y="770">DJF</text><text x="269.4" y="770">JJA</text><text x="292" y="770">DJF</text>
<text x="365" y="758">2003</text><text x="387.6" y="758">2005</text><text x="410.1" y="758">2008</text><text x="432.7" y="758">2010</text><text x="455.3" y="758">2013</text><text x="477.9" y="758">2015</text><text x="500.4" y="758">2018</text><text x="523" y="758">2020</text>
<text x="365" y="770">JJA</text><text x="387.6" y="770">DJF</text><text x="410.1" y="770">JJA</text><text x="432.7" y="770">DJF</text><text x="455.3" y="770">JJA</text><text x="477.9" y="770">DJF</text><text x="500.4" y="770">JJA</text><text x="523" y="770">DJF</text>
<text x="597" y="758">2003</text><text x="619.6" y="758">2005</text><text x="642.1" y="758">2008</text><text x="664.7" y="758">2010</text><text x="687.3" y="758">2013</text><text x="709.9" y="758">2015</text><text x="732.4" y="758">2018</text><text x="755" y="758">2020</text>
<text x="597" y="770">JJA</text><text x="619.6" y="770">DJF</text><text x="642.1" y="770">JJA</text><text x="664.7" y="770">DJF</text><text x="687.3" y="770">JJA</text><text x="709.9" y="770">DJF</text><text x="732.4" y="770">JJA</text><text x="755" y="770">DJF</text>
</g>
</svg>
</body></html>
